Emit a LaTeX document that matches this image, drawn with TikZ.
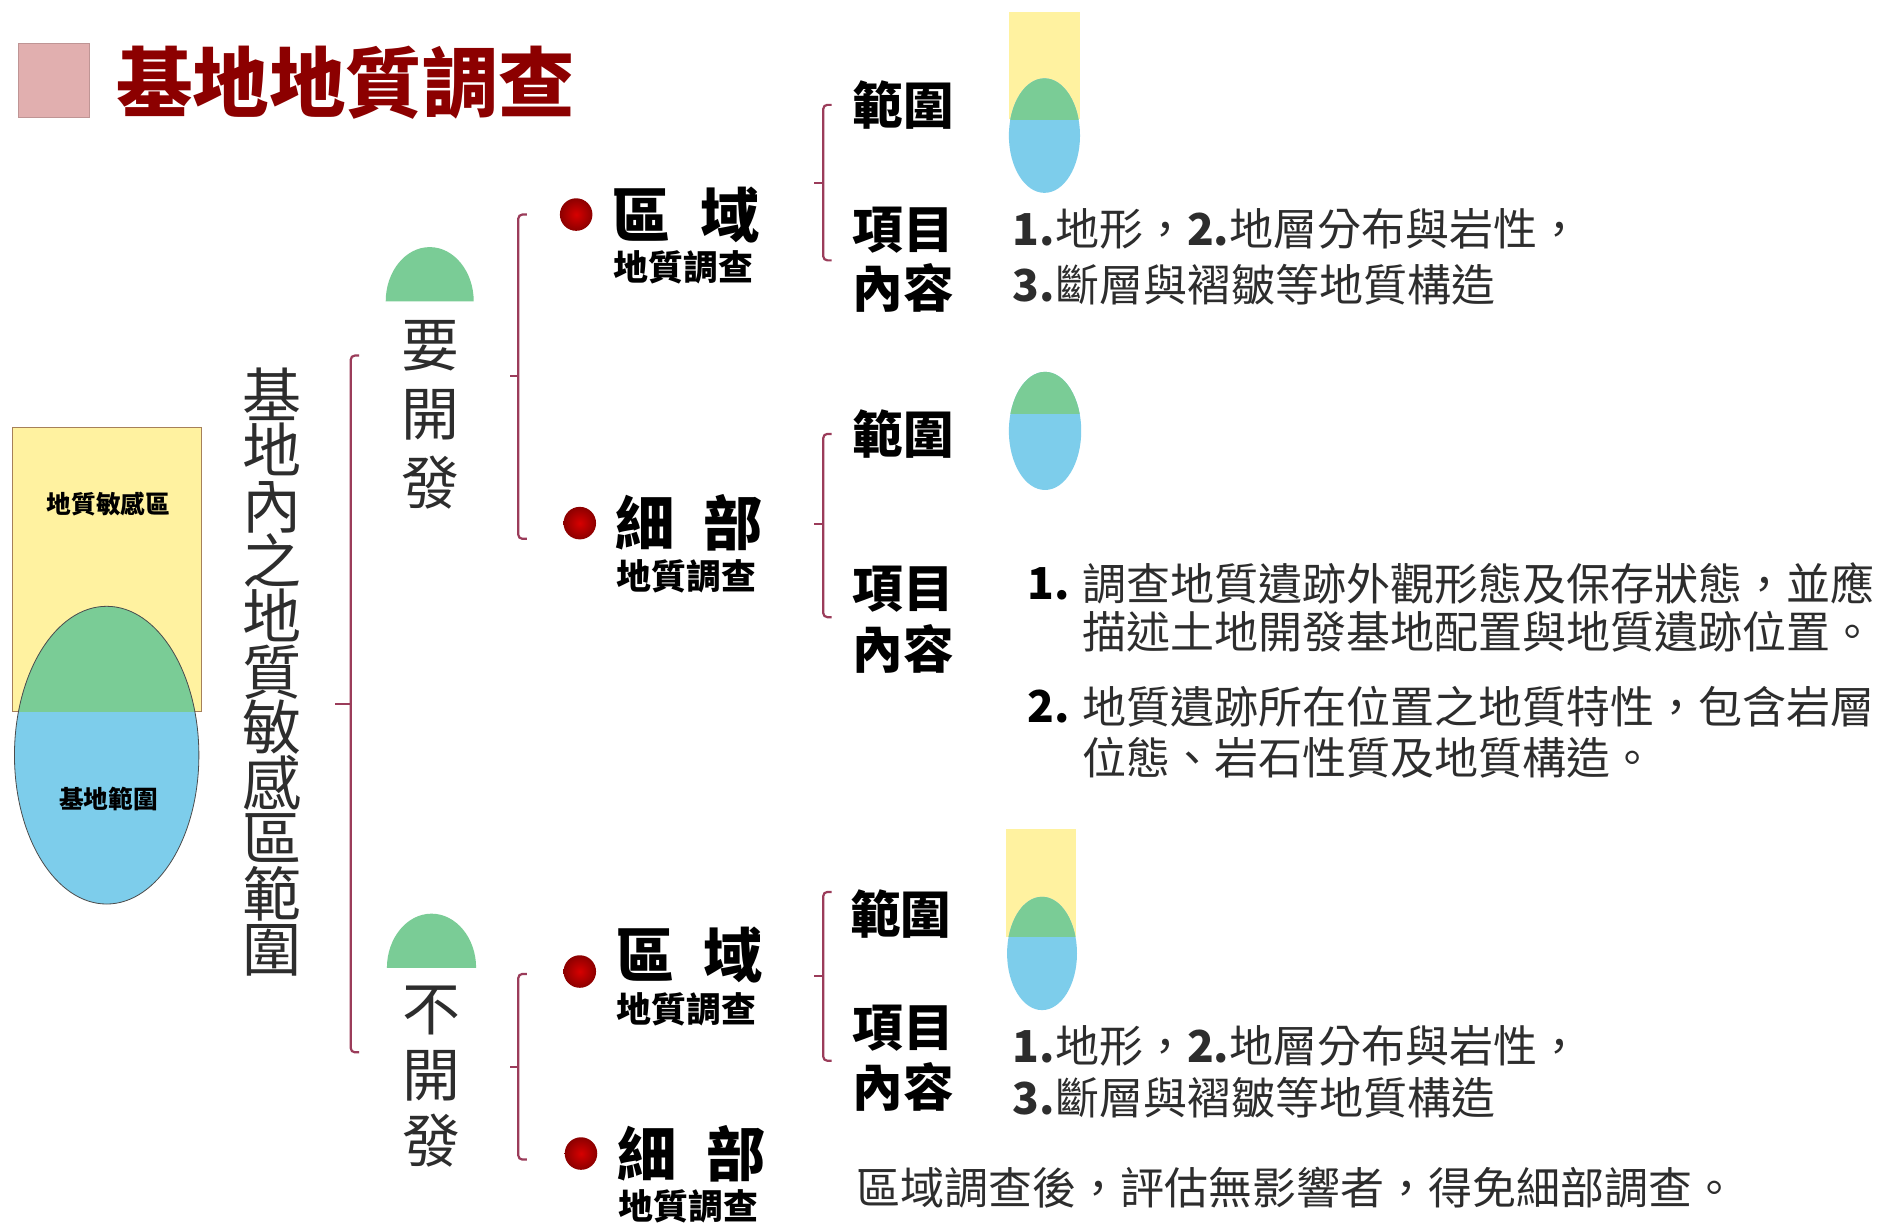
\documentclass[tikz,border=0pt]{standalone}
\usepackage{fontspec}
\setmainfont{Noto Sans CJK TC}
\definecolor{yel}{RGB}{255,242,160}
\definecolor{grn}{RGB}{122,204,150}
\definecolor{blu}{RGB}{125,205,235}
\definecolor{brkc}{RGB}{155,60,90}
\definecolor{ttlc}{RGB}{140,0,0}
\definecolor{sqc}{RGB}{225,175,175}
\definecolor{txt}{RGB}{45,45,45}
\definecolor{dotin}{RGB}{215,0,0}
\definecolor{dotout}{RGB}{140,0,0}
\newcommand\fsz[2]{\fontsize{\fpeval{#1*0.6}pt}{\fpeval{#2*0.6}pt}\selectfont}
\newcommand\bracketat[5]{%
  \draw[brk] (#1+7,#2) -- (#1,#2) -- (#1,#3) -- (#1+7,#3);
  \draw[brk] (#1,#4) -- (#5,#4);}
\begin{document}
\begin{tikzpicture}[x=0.6pt,y=-0.6pt,
  brk/.style={draw=brkc, line width=1.1pt, rounded corners=2pt},
  dotn/.style={circle, minimum size=16.2pt, inner sep=0, inner color=dotin, outer color=dotout},
  big/.style={font=\bfseries\fsz{49}{49}, anchor=west, inner sep=0, text=black},
  subl/.style={font=\bfseries\fsz{29}{29}, anchor=west, inner sep=0, text=black},
  lab/.style={font=\bfseries\fsz{42}{42}, anchor=west, inner sep=0, text=black},
  body/.style={font=\fsz{36.5}{36.5}, anchor=west, inner sep=0, text=txt},
  tiny/.style={font=\bfseries\fsz{20.5}{20.5}, inner sep=0, text=black},
  vt/.style={align=center, inner sep=0, text=txt}]
\useasboundingbox (0,0) rectangle (1568,1014);
\fill[white] (0,0) rectangle (1568,1014);

% title
\node[fill=sqc, draw=sqc!85!black, line width=0.4pt, minimum width=35.4pt, minimum height=36.6pt, inner sep=0] (sqr) at (44.5,66.5) {};
\node[font=\bfseries\fsz{63.5}{63.5}, text=ttlc, anchor=west, inner sep=0] (title) at (96,69) {基地地質調查};

% left figure
\fill[yel] (10,355) rectangle (167,590);
\draw[draw=brown!60!gray, line width=0.5pt] (10,355) rectangle (167,590);
\fill[blu] (88.5,626.5) ellipse [x radius=76.5, y radius=123.5];
\begin{scope}
  \clip (10,355) rectangle (167,590);
  \fill[grn] (88.5,626.5) ellipse [x radius=76.5, y radius=123.5];
\end{scope}
\draw[gray!60!black, line width=0.4pt] (88.5,626.5) ellipse [x radius=76.5, y radius=123.5];
\node[tiny] (sens) at (90,418) {地質敏感區};
\node[tiny] (site) at (90,663) {基地範圍};

% vertical text
\node[vt, font=\fsz{49}{46}] (vtext) at (226,557.5) {基\\地\\內\\之\\地\\質\\敏\\感\\區\\範\\圍};

% main bracket
\bracketat{291}{295}{873}{584}{278}

% domes
\fill[grn] (320,250) .. controls (320,225.2) and (336.4,205) .. (356.5,205)
  .. controls (376.6,205) and (393,225.2) .. (393,250) -- cycle;
\fill[grn] (321,803) .. controls (321,778.2) and (337.6,758) .. (358,758)
  .. controls (378.4,758) and (395,778.2) .. (395,803) -- cycle;
\node[vt, font=\fsz{48}{57}] (dev) at (357,344) {要\\開\\發};
\node[vt, font=\fsz{48}{55}] (nodev) at (358,893) {不\\開\\發};

% sub brackets
\bracketat{430}{178}{447}{312}{423}
\bracketat{430}{808}{962}{885}{423}

% groups
\node[dotn] (d1) at (478,178) {};
\node[big] (g1) at (507,178) {區\hspace{0.5em}域};
\node[subl] (s1) at (509,222) {地質調查};
\node[dotn] (d2) at (481,434) {};
\node[big] (g2) at (510,434) {細\hspace{0.5em}部};
\node[subl] (s2) at (511,478) {地質調查};
\node[dotn] (d3) at (481,806) {};
\node[big] (g3) at (510,792) {區\hspace{0.5em}域};
\node[subl] (s3) at (511,837) {地質調查};
\node[dotn] (d4) at (482,957) {};
\node[big] (g4) at (512,957) {細\hspace{0.5em}部};
\node[subl] (s4) at (513,1001) {地質調查};

% right brackets
\bracketat{683}{87}{216}{152}{675}
\bracketat{683}{360}{512}{435}{675}
\bracketat{683}{740}{880}{810}{675}

% labels
\node[lab] (r1) at (707,87) {範圍};
\node[lab] (i1) at (707,191) {項目};
\node[lab] (c1) at (707,239) {內容};
\node[lab] (r2) at (707,360) {範圍};
\node[lab] (i2) at (707,489) {項目};
\node[lab] (c2) at (707,538) {內容};
\node[lab] (r3) at (705,758) {範圍};
\node[lab] (i3) at (707,853) {項目};
\node[lab] (c3) at (707,902) {內容};

% mini shapes
\fill[yel] (837,10) rectangle (896,99);
\fill[blu] (866.5,112.5) ellipse [x radius=29.5, y radius=47.5];
\begin{scope}
  \clip (837,10) rectangle (896,99);
  \fill[grn] (866.5,112.5) ellipse [x radius=29.5, y radius=47.5];
\end{scope}
\fill[blu] (867,357.5) ellipse [x radius=30, y radius=49];
\begin{scope}
  \clip (830,300) rectangle (905,343);
  \fill[grn] (867,357.5) ellipse [x radius=30, y radius=49];
\end{scope}
\fill[yel] (835,688) rectangle (893,777);
\fill[blu] (864.5,791) ellipse [x radius=29, y radius=47];
\begin{scope}
  \clip (835,688) rectangle (893,777);
  \fill[grn] (864.5,791) ellipse [x radius=29, y radius=47];
\end{scope}

% body texts
\node[body] (t1a) at (840,190) {\textbf{1.}地形，\textbf{2.}地層分布與岩性，};
\node[body] (t1b) at (840,236) {\textbf{3.}斷層與褶皺等地質構造};
\node[body, font=\bfseries\fsz{36.5}{36.5}, text=black] (n1) at (852,484) {1.};
\node[body] (t2a) at (898,484) {調查地質遺跡外觀形態及保存狀態，並應};
\node[body] (t2b) at (898,524) {描述土地開發基地配置與地質遺跡位置。};
\node[body, font=\bfseries\fsz{36.5}{36.5}, text=black] (n2) at (852,586) {2.};
\node[body] (t2c) at (898,586) {地質遺跡所在位置之地質特性，包含岩層};
\node[body] (t2d) at (898,629) {位態、岩石性質及地質構造。};
\node[body] (t3a) at (840,868) {\textbf{1.}地形，\textbf{2.}地層分布與岩性，};
\node[body] (t3b) at (840,911) {\textbf{3.}斷層與褶皺等地質構造};
\node[body] (t4) at (710,985) {區域調查後，評估無影響者，得免細部調查。};
\end{tikzpicture}
\end{document}
